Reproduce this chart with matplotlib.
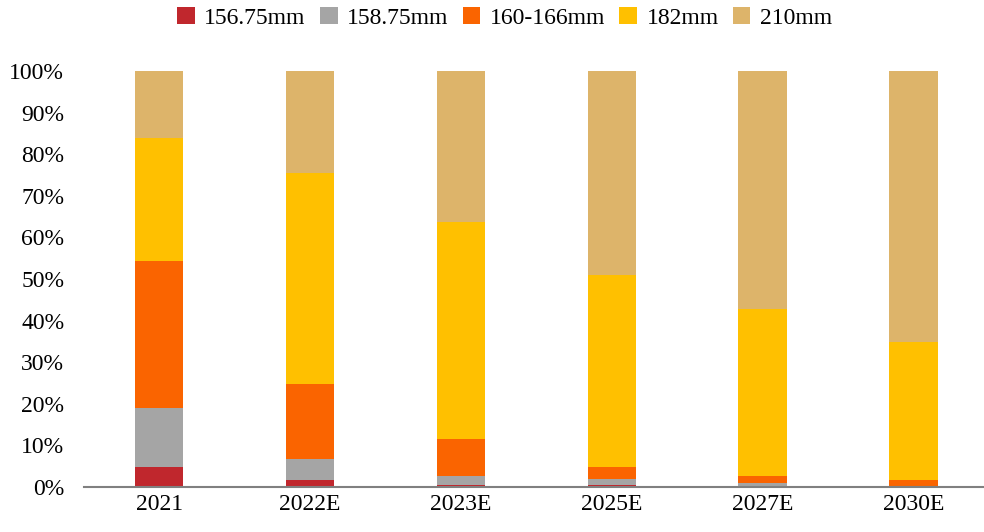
import matplotlib
matplotlib.use("Agg")
import matplotlib.pyplot as plt
import numpy as np

years = ["2021", "2022E", "2023E", "2025E", "2027E", "2030E"]
sizes = ["156.75mm", "158.75mm", "160-166mm", "182mm", "210mm"]
s156 = [4.8, 1.7, 0.5, 0.4, 0.0, 0.0]
s158 = [14.2, 5.0, 2.1, 1.5, 1.0, 0.0]
s160 = [35.3, 18.1, 8.9, 2.9, 1.6, 1.7]
s182 = [29.6, 50.7, 52.2, 46.2, 40.2, 33.2]
s210 = [16.1, 24.5, 36.3, 49.0, 57.2, 65.1]
colors = ["#C0272D", "#A5A5A5", "#FA6400", "#FFC000", "#DDB46A"]

plt.rcParams['font.family'] = ['Liberation Serif', 'DejaVu Serif']

fig = plt.figure(figsize=(9.84, 5.32), dpi=100)
ax = fig.add_axes([0.085, 0.0846, 0.92, 0.782])

x = np.arange(len(years))
bottom = np.zeros(len(years))
for name, vals, c in zip(sizes, [s156, s158, s160, s182, s210], colors):
    ax.bar(x, vals, 0.32, bottom=bottom, color=c, label=name)
    bottom += np.array(vals)

ax.set_xlim(-0.5, 5.5)
ax.set_ylim(0, 100)
ax.set_yticks(range(0, 101, 10))
ax.set_yticklabels([f"{v}%" for v in range(0, 101, 10)], fontsize=17)
ax.set_xticks(x)
ax.set_xticklabels(years, fontsize=17)
ax.tick_params(axis="y", length=0, pad=14)
ax.tick_params(axis="x", length=0, pad=5)
for s in ["top", "right", "left"]:
    ax.spines[s].set_visible(False)
ax.spines["bottom"].set_color("#808080")
ax.spines["bottom"].set_linewidth(1.5)

ax.legend(loc="center", bbox_to_anchor=(0.465, 1.127), ncol=5, frameon=False,
          fontsize=17, handlelength=0.75, handleheight=0.75, handletextpad=0.4,
          columnspacing=0.6)

fig.savefig("out.png", dpi=100)
